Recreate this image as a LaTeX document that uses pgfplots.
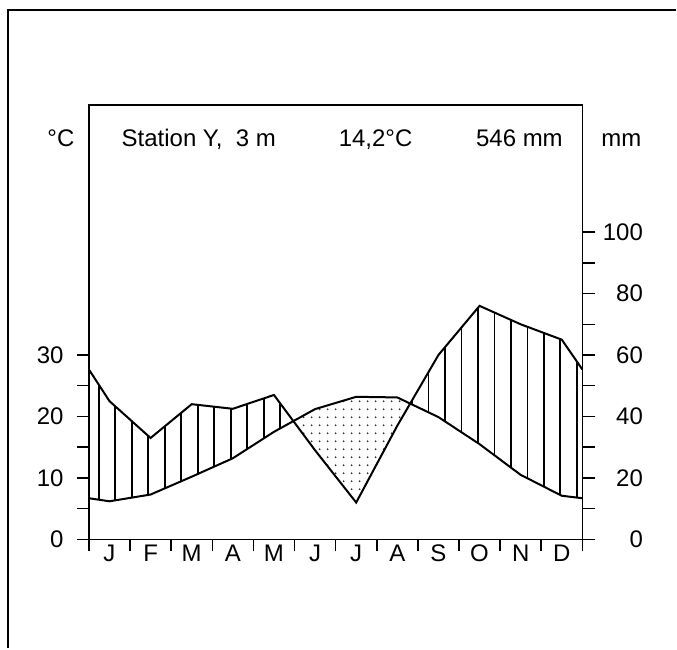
\documentclass[border=0pt]{standalone}
\usepackage{fontspec}
\setmainfont{Liberation Sans}
\usepackage{pgfplots}
\usepackage{pgfplotstable}
\pgfplotsset{compat=1.18}
\usepgfplotslibrary{fillbetween}
\usetikzlibrary{patterns.meta}

% vertical hatching for the humid months
\tikzdeclarepattern{
  name=vhatch,
  type=uncolored,
  bounding box={(-0.6pt,-0.5pt) and (0.6pt,0.5pt)},
  tile size={(8.25pt,0.5pt)},
  code={\pgfsetlinewidth{0.9pt}
        \pgfpathmoveto{\pgfpoint{0pt}{-0.6pt}}\pgfpathlineto{\pgfpoint{0pt}{0.6pt}}
        \pgfusepath{stroke}}
}
% dots for the arid months
\tikzdeclarepattern{
  name=sdots,
  type=uncolored,
  bounding box={(-0.7pt,-0.7pt) and (0.7pt,0.7pt)},
  tile size={(4pt,4pt)},
  code={\pgfpathcircle{\pgforigin}{0.5pt}\pgfusepath{fill}}
}

% m = month position (0 and 12 are the edges), t in degC, p in mm
\pgfplotstableread{
m     t     p
0     6.7   55.3
0.5   6.2   45
1.5   7.3   33
2.5   10.2  44
3.5   13.2  42.5
4.5   17.5  47
5.5   21.2  29
6.5   23.2  12
7.5   23.1  37
8.5   19.9  60
9.5   15.5  76
10.5  10.5  70
11.5  7.1   65
12    6.7   55.3
}\climate

\newcommand\fs{\fontsize{12}{14}\selectfont}

\begin{document}
\begin{tikzpicture}
\path (0,0) rectangle (338.5pt,324.5pt);
\draw[line width=0.75pt] (4pt,0) -- (4pt,319.5pt) -- (338.5pt,319.5pt);

\begin{axis}[
  at={(44.5pt,54.5pt)}, anchor=south west,
  scale only axis, width=247pt, height=217.5pt,
  xmin=0, xmax=12, ymin=0, ymax=70.7,
  axis line style={line width=0.75pt},
  tick style={black, line width=0.75pt},
  tick align=outside,
  major tick length=6pt, minor tick length=6pt,
  xtick pos=left, ytick pos=left,
  xtick={0,...,12},
  xticklabels={J,F,M,A,M,J,J,A,S,O,N,D,{}},
  xticklabel style={font=\fs, anchor=center, inner sep=0pt, xshift=10.29pt, yshift=-0.8pt},
  ytick={0,10,20,30},
  minor ytick={5,15,25},
  yticklabel style={font=\fs, anchor=east, inner sep=0pt, xshift=-6.5pt},
  /pgf/number format/assume math mode=true,
  clip=false,
]
\addplot[name path=temp, black, line width=1pt] table[x=m, y=t] {\climate};
\addplot[name path=prec, black, line width=1pt] table[x=m, y expr=\thisrow{p}/2] {\climate};
\addplot[draw=none] fill between[of=prec and temp, split,
  every segment no 0/.style={pattern=vhatch, pattern color=black},
  every segment no 1/.style={pattern=sdots, pattern color=black!80},
  every segment no 2/.style={pattern=vhatch, pattern color=black}];

\node[font=\fs, anchor=base] at (rel axis cs:0.2227,0.9034) {Station Y,\ \ 3 m};
\node[font=\fs, anchor=base] at (rel axis cs:0.581,0.9034) {14,2°C};
\node[font=\fs, anchor=base] at (rel axis cs:0.8725,0.9034) {546 mm};
\node[font=\fs, anchor=base] at (rel axis cs:-0.0567,0.9034) {°C};
\node[font=\fs, anchor=base] at (rel axis cs:1.079,0.9034) {mm};
\end{axis}

\begin{axis}[
  at={(44.5pt,54.5pt)}, anchor=south west,
  scale only axis, width=247pt, height=217.5pt,
  xmin=0, xmax=12, ymin=0, ymax=141.4,
  axis x line=none, axis y line*=right,
  axis line style={line width=0.75pt},
  tick style={black, line width=0.75pt},
  tick align=outside,
  major tick length=6.5pt, minor tick length=6.5pt,
  ytick={0,20,...,100},
  minor ytick={10,30,...,90},
  yticklabel style={font=\fs, anchor=east, inner sep=0pt, xshift=24pt},
  /pgf/number format/assume math mode=true,
]
\addplot[draw=none] table[x=m, y=p] {\climate};
\end{axis}
\end{tikzpicture}
\end{document}
